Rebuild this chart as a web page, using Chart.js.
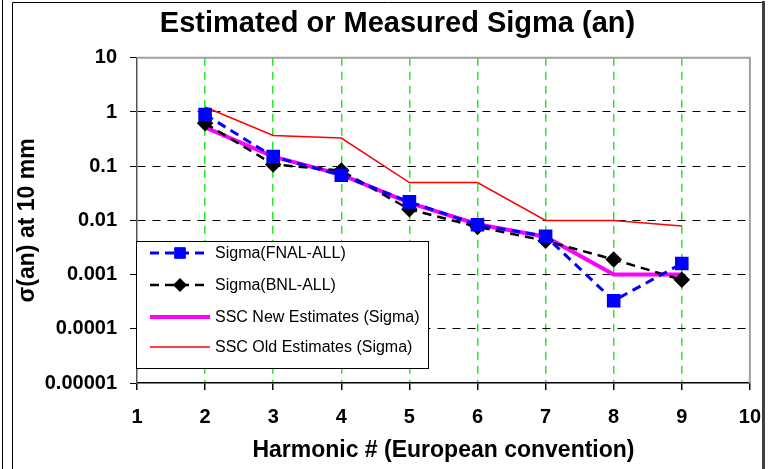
<!DOCTYPE html>
<html>
<head>
<meta charset="utf-8">
<script src="https://cdn.jsdelivr.net/npm/chart.js@4.4.3/dist/chart.umd.min.js"></script>
<style>
  html, body { margin: 0; padding: 0; background: #fff; }
  #wrap { width: 769px; height: 469px; }
</style>
</head>
<body>
<div id="wrap"><canvas id="sigmaChart" width="769" height="469"></canvas></div>
<script>
// harmonic numbers (European convention)
const harmonics = [2, 3, 4, 5, 6, 7, 8, 9];
const fnalAll = [0.9, 0.15, 0.068, 0.022, 0.0083, 0.0051, 0.00033, 0.0016];
const bnlAll = [0.62, 0.108, 0.083, 0.016, 0.0076, 0.0042, 0.0019, 0.0008];
const sscNew = [0.52, 0.15, 0.07, 0.021, 0.0085, 0.005, 0.001, 0.001];
const sscOld = [1.24, 0.37, 0.33, 0.05, 0.05, 0.01, 0.01, 0.0079];

const yTicks = [10, 1, 0.1, 0.01, 0.001, 0.0001, 0.00001];
const yTickLabels = ['10', '1', '0.1', '0.01', '0.001', '0.0001', '0.00001'];
const seriesNames = ['Sigma(FNAL-ALL)', 'Sigma(BNL-ALL)', 'SSC New Estimates (Sigma)', 'SSC Old Estimates (Sigma)'];

const toPoints = vals => harmonics.map((h, i) => ({ x: h, y: vals[i] }));

// frame around the whole picture + grey top/right of plot area
const framePlugin = {
    id: 'frames',
    beforeDatasetsDraw(chart) {
        const { ctx, chartArea: a } = chart;
        ctx.save();
        ctx.strokeStyle = '#a0a0a0';
        ctx.lineWidth = 2;
        ctx.beginPath();
        ctx.moveTo(a.left, a.top);
        ctx.lineTo(a.right, a.top);
        ctx.lineTo(a.right, a.bottom);
        ctx.stroke();
        ctx.restore();
    },
    afterDraw(chart) {
        const ctx = chart.ctx;
        ctx.save();
        ctx.strokeStyle = '#000';
        ctx.lineWidth = 1;
        ctx.beginPath();
        ctx.moveTo(2.5, 0); ctx.lineTo(2.5, 469);
        ctx.moveTo(12.5, 469); ctx.lineTo(12.5, 2.5); ctx.lineTo(763, 2.5);
        ctx.stroke();
        ctx.strokeStyle = '#404040';
        ctx.lineWidth = 3;
        ctx.beginPath();
        ctx.moveTo(763.5, 1); ctx.lineTo(763.5, 469);
        ctx.stroke();
        ctx.restore();
    }
};

// legend box drawn inside the plot area, styles taken from the datasets
const boxLegend = {
    id: 'boxLegend',
    afterDatasetsDraw(chart) {
        const ctx = chart.ctx;
        const x0 = 136.5, y0 = 241.5, w = 292, h = 127;
        ctx.save();
        ctx.fillStyle = '#fff';
        ctx.fillRect(x0, y0, w, h);
        ctx.strokeStyle = '#000';
        ctx.lineWidth = 1;
        ctx.strokeRect(x0, y0, w, h);
        const rows = [253, 285, 317, 347];
        chart.data.datasets.forEach((ds, i) => {
            const y = rows[i];
            ctx.strokeStyle = ds.borderColor;
            ctx.lineWidth = ds.borderWidth;
            ctx.setLineDash(ds.borderDash || []);
            ctx.beginPath();
            ctx.moveTo(150, y);
            ctx.lineTo(210, y);
            ctx.stroke();
            ctx.setLineDash([]);
            if (ds.pointRadius > 0) {
                ctx.fillStyle = ds.pointBackgroundColor;
                ctx.strokeStyle = ds.pointBorderColor;
                ctx.lineWidth = 1;
                Chart.helpers.drawPoint(ctx, { pointStyle: ds.pointStyle, radius: ds.pointRadius, borderWidth: 1 }, 180, y);
            }
            ctx.fillStyle = '#000';
            ctx.font = '16px "Liberation Sans", Arial, sans-serif';
            ctx.textBaseline = 'middle';
            ctx.fillText(ds.label, 215, y + 1);
        });
        ctx.restore();
    }
};

const boldFont = size => ({ family: '"Liberation Sans", Arial, sans-serif', size: size, weight: 'bold' });

new Chart(document.getElementById('sigmaChart'), {
    type: 'line',
    data: {
        datasets: [
            {
                label: seriesNames[0],
                data: toPoints(fnalAll),
                borderColor: '#0000ff',
                borderWidth: 3,
                borderDash: [9, 6],
                pointStyle: 'rect',
                pointRadius: 7.5,
                pointBackgroundColor: '#0000ff',
                pointBorderColor: '#0000ff',
                order: 1
            },
            {
                label: seriesNames[1],
                data: toPoints(bnlAll),
                borderColor: '#000000',
                borderWidth: 2.5,
                borderDash: [9, 6],
                pointStyle: 'rectRot',
                pointRadius: 6.5,
                pointBackgroundColor: '#000000',
                pointBorderColor: '#000000',
                order: 2
            },
            {
                label: seriesNames[2],
                data: toPoints(sscNew),
                borderColor: '#ff00ff',
                borderWidth: 4,
                pointRadius: 0,
                order: 3
            },
            {
                label: seriesNames[3],
                data: toPoints(sscOld),
                borderColor: '#ff0000',
                borderWidth: 1.5,
                pointRadius: 0,
                order: 4
            }
        ]
    },
    options: {
        responsive: false,
        animation: false,
        layout: { padding: { left: 36, right: 10, top: 0, bottom: 0 } },
        elements: { line: { tension: 0 } },
        plugins: {
            legend: { display: false },
            tooltip: { enabled: false },
            title: {
                display: true,
                text: 'Estimated or Measured Sigma (an)',
                color: '#000',
                font: boldFont(29),
                padding: { top: 7, bottom: 16 }
            }
        },
        scales: {
            x: {
                type: 'linear',
                min: 1,
                max: 10,
                // tall line height pushes the labels down without widening the right padding
                ticks: { stepSize: 1, color: '#000', font: { ...boldFont(20), lineHeight: 1.9 }, padding: 8 },
                grid: {
                    color: c => (c.tick && (c.tick.value === 1 || c.tick.value === 10)) ? 'rgba(0,0,0,0)' : '#22ee22',
                    lineWidth: 1.5,
                    tickColor: '#000',
                    tickLength: 7
                },
                border: { color: '#000', width: 1.5, dash: [8, 6] },
                title: { display: true, text: 'Harmonic # (European convention)', color: '#000', font: boldFont(23), padding: { top: 0, bottom: 5 } },
                afterFit: s => { s.height = 86; }
            },
            y: {
                type: 'logarithmic',
                min: 0.00001,
                max: 10,
                afterBuildTicks: s => { s.ticks = yTicks.map(v => ({ value: v })); },
                ticks: {
                    autoSkip: false,
                    color: '#000',
                    font: boldFont(20),
                    padding: 13,
                    callback: v => yTickLabels[yTicks.indexOf(v)]
                },
                grid: {
                    color: c => (c.tick && (c.tick.value === 10 || c.tick.value === 0.00001)) ? 'rgba(0,0,0,0)' : '#000',
                    lineWidth: 1,
                    tickColor: '#000',
                    tickLength: 7
                },
                border: { color: '#555', width: 1.5, dash: [8, 7] },
                // negative pad pulls the axis title back out to the left edge
                title: { display: true, text: 'σ(an) at 10 mm', color: '#000', font: boldFont(23), padding: { top: -22, bottom: 0 } },
                afterFit: s => { s.width = 101; }
            }
        }
    },
    plugins: [framePlugin, boxLegend]
});
</script>
</body>
</html>
